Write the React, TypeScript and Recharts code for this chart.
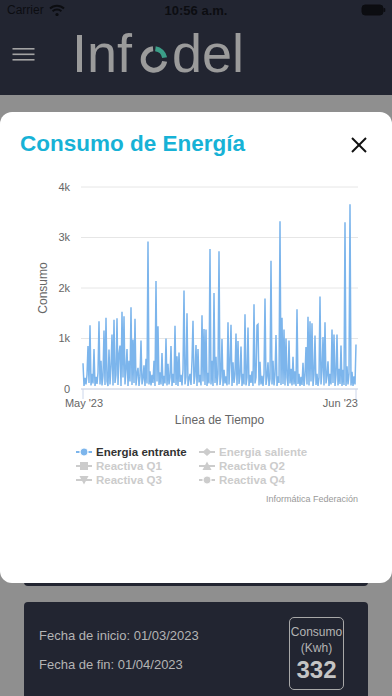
import React from 'react';
import { LineChart, Line, XAxis, YAxis, CartesianGrid } from 'recharts';

// Hourly-ish readings of "Energia entrante" across May 2023
const energiaEntrante = [
  510, 60, 220, 90, 280, 850, 120, 1260, 70, 300,
  110, 790, 60, 240, 100, 320, 1340, 90, 560, 70,
  260, 1160, 80, 1410, 150, 60, 780, 90, 450, 1080,
  70, 1370, 120, 280, 1400, 80, 700, 860, 60, 1530,
  230, 1440, 90, 380, 790, 60, 560, 150, 1620, 80,
  980, 120, 1390, 70, 300, 420, 60, 250, 960, 90,
  200, 470, 60, 600, 110, 2920, 90, 350, 70, 280,
  120, 560, 60, 2140, 150, 1240, 80, 330, 90, 710,
  60, 260, 110, 1000, 70, 500, 90, 230, 850, 60,
  300, 120, 1250, 80, 650, 60, 720, 140, 280, 70,
  380, 1950, 90, 240, 1500, 60, 200, 300, 80, 560,
  1350, 100, 260, 870, 60, 790, 130, 280, 70, 1460,
  150, 1190, 80, 1180, 60, 320, 110, 2770, 90, 560,
  60, 1900, 120, 640, 70, 300, 2730, 80, 240, 990,
  60, 380, 110, 250, 70, 1320, 90, 530, 1270, 60,
  530, 120, 290, 1100, 70, 950, 100, 260, 840, 60,
  300, 90, 1480, 70, 230, 1220, 60, 280, 120, 350,
  60, 1680, 110, 230, 1260, 1280, 70, 540, 90, 260,
  60, 300, 1790, 80, 240, 530, 60, 200, 2540, 90,
  560, 70, 280, 1070, 60, 250, 120, 3320, 80, 1410,
  100, 1180, 70, 1000, 230, 60, 960, 110, 400, 70,
  640, 90, 350, 60, 1580, 100, 300, 60, 240, 80,
  520, 60, 270, 830, 90, 1430, 70, 1340, 150, 1300,
  60, 280, 1060, 80, 300, 60, 220, 1830, 90, 350,
  1030, 70, 1320, 110, 260, 550, 60, 300, 90, 1180,
  120, 1080, 60, 280, 1080, 70, 400, 100, 860, 60,
  380, 80, 3300, 60, 450, 90, 300, 3660, 70, 340,
  60, 250, 90, 880,
];

const yTicks = [0, 1000, 2000, 3000, 4000];
const yTickLabels = ['0', '1k', '2k', '3k', '4k'];
const xTicks = [0, energiaEntrante.length - 1];
const xTickLabels = ["May '23", "Jun '23"];

const legendNames = [
  'Energia entrante',
  'Energia saliente',
  'Reactiva Q1',
  'Reactiva Q2',
  'Reactiva Q3',
  'Reactiva Q4',
];
const legendSymbols = ['circle', 'diamond', 'square', 'triangle', 'triangle-down', 'circle'];
const legendActive = [true, false, false, false, false, false];

const data = energiaEntrante.map((v, i) => ({ i, v }));

const SERIES_COLOR = '#7cb5ec';
const HC_FONT = '"Liberation Sans", Arial, Helvetica, sans-serif';

const XTick = (props: any) => {
  const { x, y, payload } = props;
  const idx = xTicks.indexOf(payload.value);
  const last = idx === xTicks.length - 1;
  return (
    <text
      x={x + (last ? 2 : 1)}
      y={y}
      dy={8}
      textAnchor={last ? 'end' : 'middle'}
      fontSize={11}
      fill="#666666"
      fontFamily={HC_FONT}
    >
      {xTickLabels[idx]}
    </text>
  );
};

const LegendSymbol = ({ kind, color }: { kind: string; color: string }) => {
  let shape: React.ReactNode = null;
  if (kind === 'circle') shape = <circle cx={8} cy={5} r={4} fill={color} stroke="#fff" strokeWidth={1.2} />;
  if (kind === 'diamond') shape = <polygon points="8,1 12.5,5 8,9 3.5,5" fill={color} />;
  if (kind === 'square') shape = <rect x={4} y={1} width={8} height={8} fill={color} />;
  if (kind === 'triangle') shape = <polygon points="8,0.5 12.5,9 3.5,9" fill={color} />;
  if (kind === 'triangle-down') shape = <polygon points="3.5,1 12.5,1 8,9.5" fill={color} />;
  return (
    <svg width={16} height={10} style={{ display: 'block' }}>
      <line x1={0} y1={5} x2={16} y2={5} stroke={color} strokeWidth={2} />
      {shape}
    </svg>
  );
};

export default function App() {
  const colX = [76, 199];
  const rowY = [452, 466, 480];
  return (
    <div
      style={{
        position: 'absolute',
        left: 0,
        top: 0,
        width: 392,
        height: 696,
        overflow: 'hidden',
        background: '#8f8f8f',
        fontFamily: HC_FONT,
      }}
    >
      {/* Header (dimmed) */}
      <div style={{ position: 'absolute', left: 0, top: 0, width: 392, height: 95, background: '#222531' }} />
      <div style={{ position: 'absolute', left: 7, top: 3, fontSize: 12, color: '#0c0d11', fontWeight: 500 }}>Carrier</div>
      <svg style={{ position: 'absolute', left: 49, top: 4 }} width={16} height={12}>
        <path d="M1 4.5 A10 10 0 0 1 15 4.5" stroke="#0c0d11" strokeWidth={2} fill="none" />
        <path d="M3.6 7.2 A6.5 6.5 0 0 1 12.4 7.2" stroke="#0c0d11" strokeWidth={2} fill="none" />
        <circle cx={8} cy={10.5} r={1.6} fill="#0c0d11" />
      </svg>
      <div style={{ position: 'absolute', left: 0, width: 392, top: 3, textAlign: 'center', fontSize: 13, color: '#0c0d11', fontWeight: 600 }}>
        10:56 a.m.
      </div>
      <svg style={{ position: 'absolute', left: 361, top: 4 }} width={25} height={12}>
        <rect x={1} y={1} width={21} height={10} rx={3} fill="#0c0d11" stroke="#0c0d11" />
        <rect x={22.5} y={4} width={1.8} height={4} rx={1} fill="#0c0d11" />
      </svg>
      <svg style={{ position: 'absolute', left: 12, top: 45 }} width={24} height={18}>
        <rect x={0.5} y={3} width={22} height={1.6} fill="#a3a3a3" />
        <rect x={0.5} y={8.5} width={22} height={1.6} fill="#a3a3a3" />
        <rect x={0.5} y={14} width={22} height={1.6} fill="#a3a3a3" />
      </svg>
      <svg style={{ position: 'absolute', left: 0, top: 0 }} width={392} height={95}>
        <text x={72} y={72} fontSize={54} fill="#9b9b9b" fontFamily={HC_FONT}>Inf</text>
        <path d="M164.64 61.38 A10.8 10.8 0 1 1 153.06 48.74" fill="none" stroke="#9b9b9b" strokeWidth={5} />
        <path d="M155.4 48.78 A10.8 10.8 0 0 1 164.64 57.63" fill="none" stroke="#3b9e88" strokeWidth={5} />
        <text x={244} y={72} fontSize={54} fill="#9b9b9b" textAnchor="end" fontFamily={HC_FONT}>del</text>
      </svg>

      {/* Cards behind the modal */}
      <div style={{ position: 'absolute', left: 24, top: 470, width: 344, height: 116, background: '#222531', borderRadius: 4 }} />
      <div style={{ position: 'absolute', left: 24, top: 602, width: 344, height: 120, background: '#222531', borderRadius: 4 }} />
      <div style={{ position: 'absolute', left: 39, top: 628, fontSize: 13, color: '#b4b4b4' }}>Fecha de inicio: 01/03/2023</div>
      <div style={{ position: 'absolute', left: 39, top: 657, fontSize: 13, color: '#b4b4b4' }}>Fecha de fin: 01/04/2023</div>
      <div
        style={{
          position: 'absolute',
          left: 289,
          top: 617,
          width: 55,
          height: 73,
          border: '1px solid #a8a8a8',
          borderRadius: 5,
          boxSizing: 'border-box',
          textAlign: 'center',
          color: '#b4b4b4',
        }}
      >
        <div style={{ fontSize: 12, marginTop: 6, lineHeight: '16px' }}>Consumo</div>
        <div style={{ fontSize: 12, lineHeight: '16px' }}>(Kwh)</div>
        <div style={{ fontSize: 24, fontWeight: 700, lineHeight: '27px', color: '#c4c4c4' }}>332</div>
      </div>

      {/* Modal */}
      <div style={{ position: 'absolute', left: 0, top: 112, width: 392, height: 471, background: '#ffffff', borderRadius: 12 }} />
      <div style={{ position: 'absolute', left: 20, top: 131, fontSize: 22.5, fontWeight: 700, color: '#17b2d6', whiteSpace: 'nowrap' }}>
        Consumo de Energía
      </div>
      <svg style={{ position: 'absolute', left: 350, top: 136 }} width={18} height={18}>
        <line x1={2} y1={2} x2={16} y2={16} stroke="#111" strokeWidth={2} />
        <line x1={16} y1={2} x2={2} y2={16} stroke="#111" strokeWidth={2} />
      </svg>

      {/* Chart */}
      <div style={{ position: 'absolute', left: 0, top: 170 }}>
        <LineChart width={392} height={260} data={data} margin={{ top: 17, right: 34, bottom: 1, left: 0 }}>
          <CartesianGrid vertical={false} stroke="#e6e6e6" strokeWidth={1} />
          <XAxis
            dataKey="i"
            type="number"
            domain={[-2, energiaEntrante.length + 1]}
            ticks={xTicks}
            tick={<XTick />}
            tickSize={10}
            tickMargin={0}
            height={40}
            axisLine={{ stroke: '#ccd6eb' }}
            tickLine={{ stroke: '#ccd6eb' }}
            interval={0}
          />
          <YAxis
            type="number"
            domain={[0, 4000]}
            ticks={yTicks}
            width={81}
            axisLine={false}
            tickLine={false}
            tickSize={0}
            tickMargin={11}
            interval={0}
            tickFormatter={(v: number) => yTickLabels[yTicks.indexOf(v)]}
            tick={{ fontSize: 11, fill: '#666666', fontFamily: HC_FONT }}
          />
          <Line
            type="linear"
            dataKey="v"
            stroke={SERIES_COLOR}
            strokeWidth={1.5}
            dot={false}
            isAnimationActive={false}
          />
        </LineChart>
      </div>
      <div
        style={{
          position: 'absolute',
          left: 42.5,
          top: 288,
          transform: 'translate(-50%, -50%) rotate(-90deg)',
          fontSize: 12,
          color: '#666666',
          whiteSpace: 'nowrap',
        }}
      >
        Consumo
      </div>
      <div style={{ position: 'absolute', left: 0, width: 439, top: 413, textAlign: 'center', fontSize: 12, color: '#666666' }}>
        Línea de Tiempo
      </div>

      {/* Legend */}
      {legendNames.map((name, k) => {
        const col = k % 2;
        const row = Math.floor(k / 2);
        const color = legendActive[k] ? SERIES_COLOR : '#cccccc';
        return (
          <div
            key={name}
            style={{
              position: 'absolute',
              left: colX[col],
              top: rowY[row] - 7,
              height: 14,
              display: 'flex',
              alignItems: 'center',
              whiteSpace: 'nowrap',
            }}
          >
            <LegendSymbol kind={legendSymbols[k]} color={color} />
            <span
              style={{
                marginLeft: 4,
                fontSize: 11.5,
                fontWeight: 700,
                color: legendActive[k] ? '#333333' : '#cccccc',
              }}
            >
              {name}
            </span>
          </div>
        );
      })}
      <div style={{ position: 'absolute', right: 34, top: 494, fontSize: 9, color: '#999999', whiteSpace: 'nowrap' }}>
        Informática Federación
      </div>
    </div>
  );
}
